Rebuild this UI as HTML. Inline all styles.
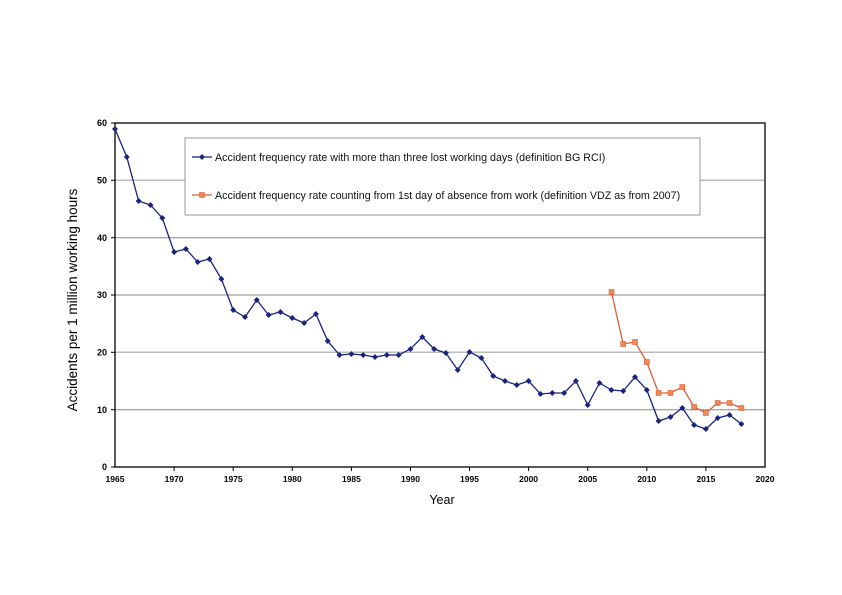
<!DOCTYPE html>
<html><head><style>body{margin:0;background:#fff}svg{display:block;font-family:"Liberation Sans",sans-serif}</style></head><body>
<svg width="842" height="595" viewBox="0 0 842 595">
<g stroke="#888" stroke-width="1">
<line x1="115" y1="180.3" x2="765" y2="180.3" stroke="#bbb" stroke-width="1.5"/>
<line x1="115" y1="237.7" x2="765" y2="237.7"/>
<line x1="115" y1="295" x2="765" y2="295"/>
<line x1="115" y1="352.3" x2="765" y2="352.3" stroke="#bbb" stroke-width="1.5"/>
<line x1="115" y1="409.7" x2="765" y2="409.7"/>
</g>
<rect x="115" y="123" width="650" height="344" fill="none" stroke="#000" stroke-width="1.3"/>
<g stroke="#000" stroke-width="1">
<line x1="111" y1="123" x2="115" y2="123"/><line x1="111" y1="180.3" x2="115" y2="180.3"/><line x1="111" y1="237.7" x2="115" y2="237.7"/><line x1="111" y1="295" x2="115" y2="295"/><line x1="111" y1="352.3" x2="115" y2="352.3"/><line x1="111" y1="409.7" x2="115" y2="409.7"/><line x1="111" y1="467" x2="115" y2="467"/>
<line x1="174.1" y1="467" x2="174.1" y2="471"/><line x1="233.2" y1="467" x2="233.2" y2="471"/><line x1="292.3" y1="467" x2="292.3" y2="471"/><line x1="351.4" y1="467" x2="351.4" y2="471"/><line x1="410.5" y1="467" x2="410.5" y2="471"/><line x1="469.5" y1="467" x2="469.5" y2="471"/><line x1="528.6" y1="467" x2="528.6" y2="471"/><line x1="587.7" y1="467" x2="587.7" y2="471"/><line x1="646.8" y1="467" x2="646.8" y2="471"/><line x1="705.9" y1="467" x2="705.9" y2="471"/>
</g>
<g font-size="9" font-weight="bold" text-anchor="end" fill="#000">
<text x="107" y="126">60</text><text x="107" y="183.5">50</text><text x="107" y="241">40</text><text x="107" y="298">30</text><text x="107" y="355.5">20</text><text x="107" y="413">10</text><text x="107" y="470">0</text>
</g>
<g font-size="8.5" font-weight="bold" text-anchor="middle" fill="#000">
<text x="115" y="482">1965</text><text x="174.1" y="482">1970</text><text x="233.2" y="482">1975</text><text x="292.3" y="482">1980</text><text x="351.4" y="482">1985</text><text x="410.5" y="482">1990</text><text x="469.5" y="482">1995</text><text x="528.6" y="482">2000</text><text x="587.7" y="482">2005</text><text x="646.8" y="482">2010</text><text x="705.9" y="482">2015</text><text x="765" y="482">2020</text>
</g>
<text x="442" y="504" font-size="12.5" text-anchor="middle">Year</text>
<text transform="translate(77,300) rotate(-90)" font-size="13.5" text-anchor="middle">Accidents per 1 million working hours</text>
<polyline fill="none" stroke="#1a237e" stroke-width="1.3" points="115,129 126.8,157 138.6,201 150.5,205 162.3,218 174.1,252 185.9,249 197.7,262 209.5,259 221.4,279 233.2,310 245,317 256.8,300 268.6,315 280.5,312 292.3,318 304.1,323 315.9,314 327.7,341 339.5,355 351.4,354 363.2,355 375,357 386.8,355 398.6,355 410.5,349 422.3,337 434.1,349 445.9,353 457.7,370 469.5,352 481.4,358 493.2,376 505,381 516.8,385 528.6,381 540.5,394 552.3,393 564.1,393 575.9,381 587.7,405 599.5,383 611.4,390 623.2,391 635,377 646.8,390 658.6,421 670.5,417 682.3,408 694.1,425 705.9,429 717.7,418 729.5,415 741.4,424"/>
<polyline fill="none" stroke="#d9603b" stroke-width="1.3" points="611.4,292 623.2,344 635,342 646.8,362 658.6,393 670.5,393 682.3,387 694.1,407 705.9,413 717.7,403 729.5,403 741.4,408"/>
<g fill="#f08a50" stroke="#d9603b" stroke-width="0.6">
<rect x="609" y="289.5" width="5" height="5"/><rect x="620.7" y="341.5" width="5" height="5"/><rect x="632.5" y="339.5" width="5" height="5"/><rect x="644.3" y="359.5" width="5" height="5"/><rect x="656.1" y="390.5" width="5" height="5"/><rect x="668" y="390.5" width="5" height="5"/><rect x="679.8" y="384.5" width="5" height="5"/><rect x="691.6" y="404.5" width="5" height="5"/><rect x="703.4" y="410.5" width="5" height="5"/><rect x="715.2" y="400.5" width="5" height="5"/><rect x="727" y="400.5" width="5" height="5"/><rect x="738.9" y="405.5" width="5" height="5"/>
</g>
<g fill="#1a237e">
<path d="M115,126l3,3l-3,3l-3,-3zM126.8,154l3,3l-3,3l-3,-3zM138.6,198l3,3l-3,3l-3,-3zM150.5,202l3,3l-3,3l-3,-3zM162.3,215l3,3l-3,3l-3,-3zM174.1,249l3,3l-3,3l-3,-3zM185.9,246l3,3l-3,3l-3,-3zM197.7,259l3,3l-3,3l-3,-3zM209.5,256l3,3l-3,3l-3,-3zM221.4,276l3,3l-3,3l-3,-3zM233.2,307l3,3l-3,3l-3,-3zM245,314l3,3l-3,3l-3,-3zM256.8,297l3,3l-3,3l-3,-3zM268.6,312l3,3l-3,3l-3,-3zM280.5,309l3,3l-3,3l-3,-3zM292.3,315l3,3l-3,3l-3,-3zM304.1,320l3,3l-3,3l-3,-3zM315.9,311l3,3l-3,3l-3,-3zM327.7,338l3,3l-3,3l-3,-3zM339.5,352l3,3l-3,3l-3,-3zM351.4,351l3,3l-3,3l-3,-3zM363.2,352l3,3l-3,3l-3,-3zM375,354l3,3l-3,3l-3,-3zM386.8,352l3,3l-3,3l-3,-3zM398.6,352l3,3l-3,3l-3,-3zM410.5,346l3,3l-3,3l-3,-3zM422.3,334l3,3l-3,3l-3,-3zM434.1,346l3,3l-3,3l-3,-3zM445.9,350l3,3l-3,3l-3,-3zM457.7,367l3,3l-3,3l-3,-3zM469.5,349l3,3l-3,3l-3,-3zM481.4,355l3,3l-3,3l-3,-3zM493.2,373l3,3l-3,3l-3,-3zM505,378l3,3l-3,3l-3,-3zM516.8,382l3,3l-3,3l-3,-3zM528.6,378l3,3l-3,3l-3,-3zM540.5,391l3,3l-3,3l-3,-3zM552.3,390l3,3l-3,3l-3,-3zM564.1,390l3,3l-3,3l-3,-3zM575.9,378l3,3l-3,3l-3,-3zM587.7,402l3,3l-3,3l-3,-3zM599.5,380l3,3l-3,3l-3,-3zM611.4,387l3,3l-3,3l-3,-3zM623.2,388l3,3l-3,3l-3,-3zM635,374l3,3l-3,3l-3,-3zM646.8,387l3,3l-3,3l-3,-3zM658.6,418l3,3l-3,3l-3,-3zM670.5,414l3,3l-3,3l-3,-3zM682.3,405l3,3l-3,3l-3,-3zM694.1,422l3,3l-3,3l-3,-3zM705.9,426l3,3l-3,3l-3,-3zM717.7,415l3,3l-3,3l-3,-3zM729.5,412l3,3l-3,3l-3,-3zM741.4,421l3,3l-3,3l-3,-3z"/>
</g>
<rect x="185" y="138" width="515" height="77" fill="#fff" stroke="#999" stroke-width="1"/>
<line x1="192" y1="157" x2="212" y2="157" stroke="#1a237e" stroke-width="1.3"/>
<path d="M202,154l3,3l-3,3l-3,-3z" fill="#1a237e"/>
<text x="215" y="161" font-size="10.7" fill="#111">Accident frequency rate with more than three lost working days (definition BG RCI)</text>
<line x1="192" y1="195" x2="212" y2="195" stroke="#d9603b" stroke-width="1.3"/>
<rect x="199.5" y="192.5" width="5" height="5" fill="#f08a50" stroke="#d9603b" stroke-width="0.6"/>
<text x="215" y="199" font-size="10.7" fill="#111">Accident frequency rate counting from 1st day of absence from work (definition VDZ as from 2007)</text>
</svg>
</body></html>
